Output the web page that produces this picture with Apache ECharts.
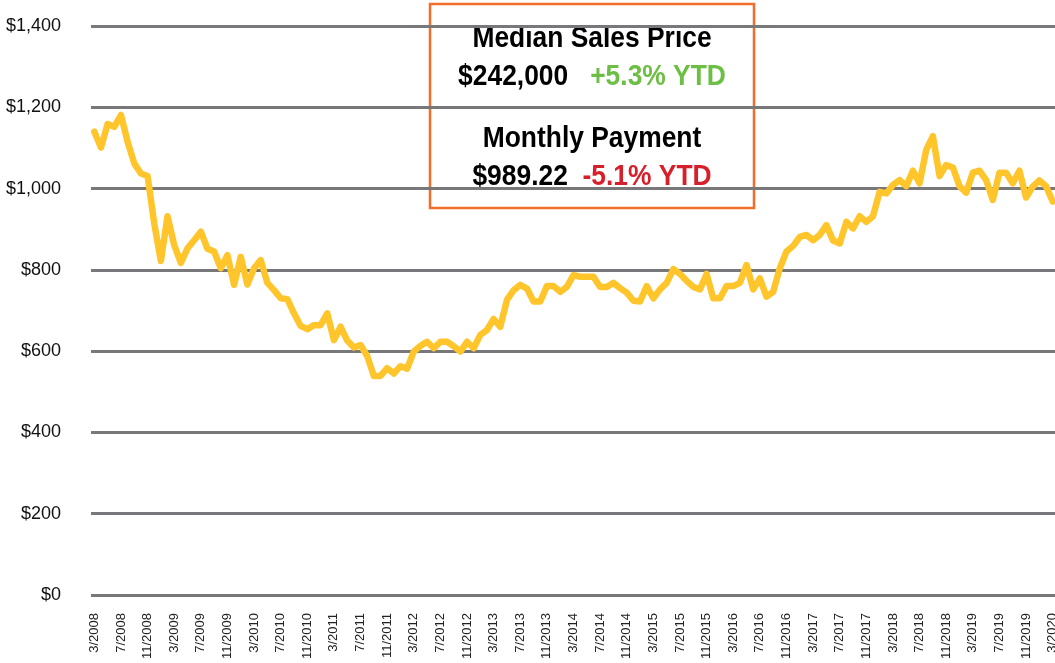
<!DOCTYPE html>
<html>
<head>
<meta charset="utf-8">
<script src="https://cdn.jsdelivr.net/npm/echarts@6/dist/echarts.min.js"></script>
<style>
  html, body { margin: 0; padding: 0; background: #fff; }
  #main { width: 1055px; height: 663px; }
</style>
</head>
<body>
<div id="main"></div>
<script>
// monthly payment, 3/2008 .. 3/2020
var startYear = 2008, startMonth = 3, monthCount = 145
var months = []
for (var i = 0; i < monthCount; i++) {
    var m = (startMonth - 1 + i) % 12 + 1
    var y = startYear + Math.floor((startMonth - 1 + i) / 12)
    months.push(m + '/' + y)
}

var payment = [
    1140, 1101, 1159, 1152, 1181, 1115, 1062, 1037, 1031, 914,
    822, 932, 861, 817, 853, 873, 894, 852, 845, 804,
    836, 763, 832, 764, 804, 824, 768, 750, 730, 728,
    693, 662, 654, 664, 664, 693, 627, 660, 626, 609,
    615, 588, 539, 539, 558, 545, 563, 557, 599, 613,
    623, 607, 623, 623, 612, 599, 623, 607, 640, 652,
    679, 660, 726, 750, 763, 754, 722, 722, 760, 760,
    746, 758, 787, 783, 783, 783, 758, 758, 768, 755,
    744, 724, 722, 760, 730, 752, 768, 802, 790, 773,
    758, 752, 790, 730, 730, 760, 760, 768, 812, 752,
    779, 734, 746, 804, 845, 859, 881, 886, 873, 886,
    910, 872, 865, 918, 902, 932, 918, 932, 992, 988,
    1009, 1021, 1006, 1044, 1013, 1095, 1129, 1031, 1058, 1052,
    1006, 990, 1039, 1044, 1021, 972, 1039, 1039, 1013, 1044,
    978, 1005, 1020, 1006, 968
]

var yTicks = [0, 200, 400, 600, 800, 1000, 1200, 1400]

var priceTitle = 'Median Sales Price'
var priceValue = '$242,000'
var priceChange = '+5.3% YTD'
var payTitle = 'Monthly Payment'
var payValue = '$989.22'
var payChange = '-5.1% YTD'

var font = '"Liberation Sans", Arial, sans-serif'
var squeeze = 0.88

function boxText(y, text, rich) {
    var style = {
        text: text, align: 'center', verticalAlign: 'middle',
        fontFamily: font, fontWeight: 'bold', fontSize: 30, fill: '#000'
    }
    if (rich) style.rich = rich
    return { type: 'text', x: 592, y: y, scaleX: squeeze, style: style }
}
function richPart(color) {
    return { fontFamily: font, fontWeight: 'bold', fontSize: 30, fill: color }
}

var theChart = echarts.init(document.getElementById('main'))
var option = {
    backgroundColor: '#ffffff',
    animation: false,
    grid: { left: 91, right: -1, top: 26, bottom: 68, outerBoundsMode: 'none' },
    xAxis: {
        type: 'category',
        data: months,
        boundaryGap: true,
        axisLine: { show: false },
        axisTick: { show: false },
        axisLabel: {
            interval: 3,
            rotate: 90,
            margin: 18,
            fontFamily: font,
            fontSize: 13,
            color: '#222'
        }
    },
    yAxis: {
        type: 'value',
        min: yTicks[0],
        max: yTicks[yTicks.length - 1],
        interval: 200,
        axisLine: { show: false },
        axisTick: { show: false },
        axisLabel: {
            margin: 30,
            fontFamily: font,
            fontSize: 18,
            color: '#111',
            formatter: function (v) {
                return '$' + v.toLocaleString('en-US')
            }
        },
        splitLine: { lineStyle: { color: '#78787b', width: 3 } }
    },
    series: [{
        type: 'line',
        data: payment,
        symbol: 'none',
        smooth: false,
        lineStyle: { color: '#FFC52A', width: 6.5, cap: 'round', join: 'round' },
        z: 3
    }],
    graphic: [{
        type: 'group',
        z: 100,
        children: [{
            type: 'rect',
            shape: { x: 430, y: 4, width: 324, height: 204 },
            style: { fill: '#ffffff', stroke: '#F26D2A', lineWidth: 2.5 }
        },
        boxText(39, priceTitle),
        boxText(77, '{a|' + priceValue + '}{g|   ' + priceChange + '}', { a: richPart('#000'), g: richPart('#6CBE45') }),
        boxText(139, payTitle),
        boxText(177, '{a|' + payValue + '}{r|  ' + payChange + '}', { a: richPart('#000'), r: richPart('#D71F2B') })
        ]
    }]
}
theChart.setOption(option)
</script>
</body>
</html>
